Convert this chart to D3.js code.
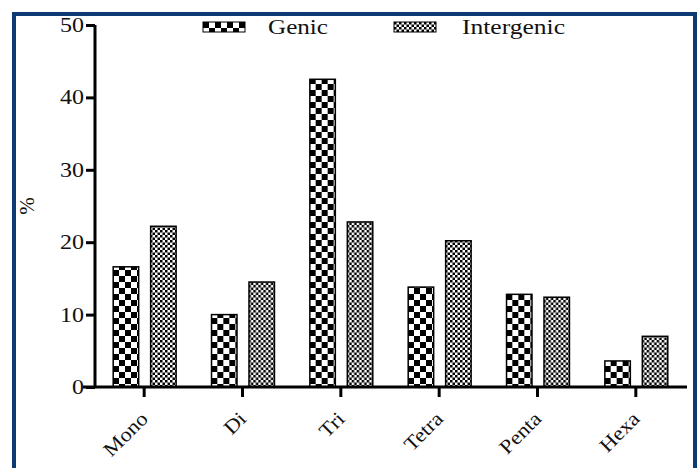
<!DOCTYPE html>
<html>
<head>
<meta charset="utf-8">
<script src="https://cdn.jsdelivr.net/npm/d3@7"></script>
<style>
  body { margin: 0; background: #fff; }
  svg text { font-family: "Liberation Serif", "Times New Roman", "DejaVu Serif", serif !important; fill: #111; }
</style>
</head>
<body>
<div id="chart"></div>
<script>
(function() {

  var width = 698;
  var height = 468;
  var margin = ({top: 25, right: 13, bottom: 81, left: 95});

  var categories = ['Mono', 'Di', 'Tri', 'Tetra', 'Penta', 'Hexa'];
  var series = ['Genic', 'Intergenic'];
  var genic = [16.6, 10.0, 42.5, 13.8, 12.8, 3.6];
  var intergenic = [22.2, 14.5, 22.8, 20.2, 12.4, 7.0];
  var yTicks = [0, 10, 20, 30, 40, 50];

  var values = {Genic: genic, Intergenic: intergenic};

  var svg = d3.select('#chart').append('svg')
    .attr('width', width)
    .attr('height', height);

  // fill patterns: coarse checker for genic, fine checker for intergenic
  var defs = svg.append('defs');
  function checker(id, size) {
    var p = defs.append('pattern')
      .attr('id', id)
      .attr('patternUnits', 'userSpaceOnUse')
      .attr('width', size * 2)
      .attr('height', size * 2);
    p.append('rect').attr('width', size * 2).attr('height', size * 2).attr('fill', '#fff');
    p.append('rect').attr('width', size).attr('height', size).attr('fill', '#000');
    p.append('rect').attr('x', size).attr('y', size).attr('width', size).attr('height', size).attr('fill', '#000');
  }
  checker('pat-Genic', 6);
  checker('pat-Intergenic', 2.5);

  var x = d3.scaleBand()
    .domain(categories)
    .range([margin.left, width - margin.right])
    .padding(0);

  var x1 = d3.scaleBand()
    .domain(series)
    .range([x.bandwidth() * 0.185, x.bandwidth() * 0.825])
    .paddingInner(0.32);

  var y = d3.scaleLinear()
    .domain([0, 50])
    .range([height - margin.bottom, margin.top]);

  // navy frame
  svg.append('rect')
    .attr('x', 14).attr('y', 14)
    .attr('width', 681).attr('height', 470)
    .attr('fill', 'none')
    .attr('stroke', '#0b3b72')
    .attr('stroke-width', 4);

  // bars
  svg.append('g')
    .selectAll('g')
    .data(categories)
    .join('g')
      .attr('transform', d => `translate(${x(d)},0)`)
    .selectAll('rect')
    .data((d, i) => series.map(s => ({key: s, value: values[s][i]})))
    .join('rect')
      .attr('x', d => x1(d.key))
      .attr('y', d => y(d.value))
      .attr('width', x1.bandwidth())
      .attr('height', d => y(0) - y(d.value))
      .attr('fill', d => `url(#pat-${d.key})`)
      .attr('stroke', '#000')
      .attr('stroke-width', 1.5);

  // y axis
  var gy = svg.append('g')
    .attr('transform', `translate(${margin.left},0)`)
    .call(d3.axisLeft(y).tickValues(yTicks).tickSize(9).tickSizeOuter(0).tickPadding(3));
  gy.attr('font-family', null);
  gy.select('.domain').attr('stroke-width', 3).attr('d', `M0,${y(50)}V${y(0)}`);
  gy.selectAll('.tick line').attr('stroke-width', 3);
  gy.selectAll('.tick text')
    .style('font-size', '20px')
    .attr('x', 0)
    .attr('transform', 'translate(-11,0) scale(1.2,1)');

  // x axis
  var gx = svg.append('g')
    .attr('transform', `translate(0,${y(0)})`)
    .call(d3.axisBottom(x).tickSize(10).tickSizeOuter(0));
  gx.attr('font-family', null);
  gx.select('.domain').attr('stroke-width', 3).attr('d', `M${margin.left - 12},0H${width - 11}`);
  gx.selectAll('.tick line').attr('stroke-width', 3);
  gx.selectAll('.tick text')
    .style('font-size', '20px')
    .attr('text-anchor', 'end')
    .attr('dy', 0)
    .attr('y', 0)
    .attr('transform', 'translate(5,33) rotate(-45) scale(1.12,1)');

  // y label
  svg.append('text')
    .attr('transform', 'translate(34,206) rotate(-90)')
    .attr('text-anchor', 'middle')
    .style('font-size', '21px')
    .text('%');

  // legend
  var legendX = [203, 394];
  var legend = svg.append('g')
    .selectAll('g')
    .data(series)
    .join('g')
      .attr('transform', (d, i) => `translate(${legendX[i]},22)`);
  legend.append('rect')
    .attr('width', 42)
    .attr('height', 10)
    .attr('fill', d => `url(#pat-${d})`)
    .attr('stroke', '#000')
    .attr('stroke-width', 1);
  legend.append('text')
    .attr('x', (d, i) => i === 0 ? 65 : 68)
    .attr('y', 12)
    .style('font-size', '20px')
    .attr('textLength', (d, i) => i === 0 ? 60 : 103)
    .attr('lengthAdjust', 'spacingAndGlyphs')
    .text(d => d);

})();
</script>
</body>
</html>
